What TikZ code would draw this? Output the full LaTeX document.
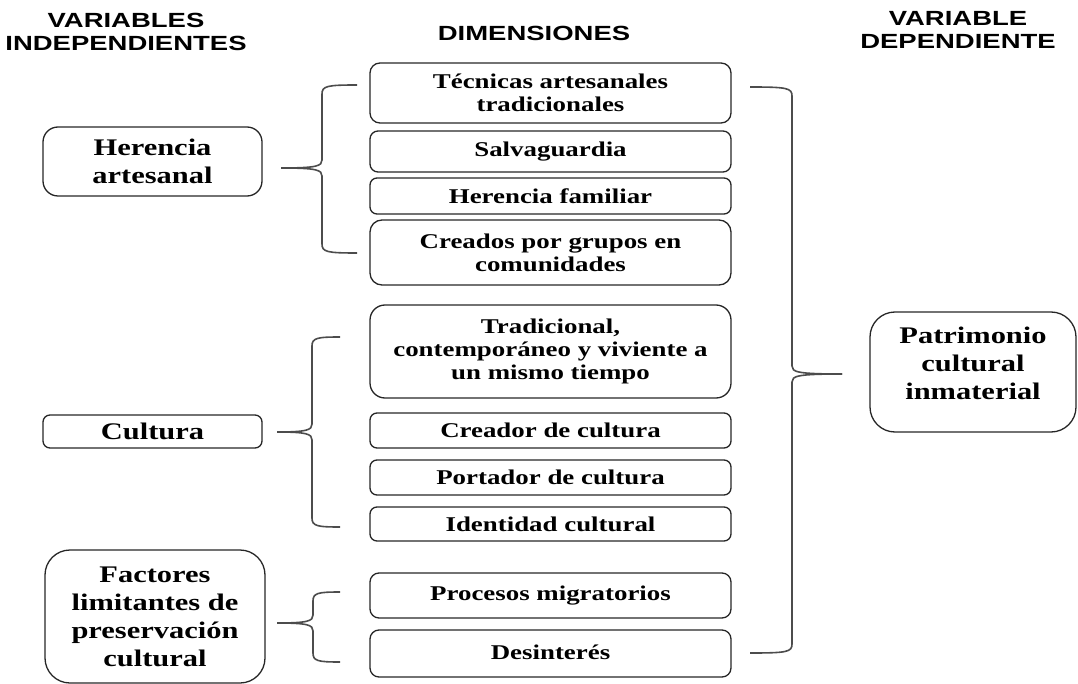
\documentclass[tikz,border=0pt]{standalone}
\usepackage{fontspec}
\newfontfamily\boxfont{Liberation Serif}[FakeStretch=1.28]
\newfontfamily\hdrfont{Liberation Sans}[FakeStretch=1.34]
\newcommand{\LBraceDraw}[7]{%
  % #1 name, #2 end x, #3 vertical x, #4 tip x, #5 top y, #6 mid y, #7 bottom y
  \coordinate (#1top) at (#2,#5);
  \coordinate (#1tip) at (#4,#6);
  \coordinate (#1bot) at (#2,#7);
  \draw[bracestyle] (#1top) .. controls ({#3+5},#5) and (#3,{#5+1}) .. (#3,{#5+9})
     -- (#3,{#6-8}) .. controls (#3,{#6-2}) and ({#3-5},#6) .. (#1tip);
  \draw[bracestyle] (#1bot) .. controls ({#3+5},#7) and (#3,{#7-1}) .. (#3,{#7-9})
     -- (#3,{#6+8}) .. controls (#3,{#6+2}) and ({#3-5},#6) .. (#1tip);
}
\newcommand{\RBraceDraw}[7]{%
  \coordinate (#1top) at (#2,#5);
  \coordinate (#1tip) at (#4,#6);
  \coordinate (#1bot) at (#2,#7);
  \draw[bracestyle] (#1top) .. controls ({#3-5},#5) and (#3,{#5+1}) .. (#3,{#5+9})
     -- (#3,{#6-8}) .. controls (#3,{#6-2}) and ({#3+5},#6) .. (#1tip);
  \draw[bracestyle] (#1bot) .. controls ({#3-5},#7) and (#3,{#7-1}) .. (#3,{#7-9})
     -- (#3,{#6+8}) .. controls (#3,{#6+2}) and ({#3+5},#6) .. (#1tip);
}
\begin{document}
\begin{tikzpicture}[x=1pt,y=-1pt,
  box/.style={draw=black!85, line width=1.3pt, align=center, inner sep=0pt,
    font=\boxfont\bfseries\fontsize{21}{23}\selectfont},
  bigbox/.style={box, font=\boxfont\bfseries\fontsize{23.8}{28}\selectfont},
  bigtext/.style={align=center, inner sep=0pt, font=\boxfont\bfseries\fontsize{23.8}{28}\selectfont},
  hdr/.style={align=center, inner sep=0pt, font=\hdrfont\bfseries\fontsize{20.5}{23}\selectfont},
  bracestyle/.style={draw=black!70, line width=1.6pt}]
\useasboundingbox (0,0) rectangle (1078,684);
% headers
\node[hdr] (h1) at (126,31.5) {VARIABLES\\INDEPENDIENTES};
\node[hdr] (h2) at (534,33) {DIMENSIONES};
\node[hdr] (h3) at (958,30) {VARIABLE\\DEPENDIENTE};
% middle column
\node[box, rounded corners=10pt, minimum width=361pt, minimum height=60pt] (tec) at (550.5,93) {Técnicas artesanales\\tradicionales};
\node[box, rounded corners=8pt, minimum width=361pt, minimum height=41pt] (sal) at (550.5,151.5) {Salvaguardia};
\node[box, rounded corners=7pt, minimum width=361pt, minimum height=36pt] (her) at (550.5,196) {Herencia familiar};
\node[box, rounded corners=12pt, minimum width=361pt, minimum height=65pt] (cre) at (550.5,252.5) {Creados por grupos en\\comunidades};
\node[box, rounded corners=15pt, minimum width=361pt, minimum height=93pt] (tra) at (550.5,351.5) {Tradicional,\\contemporáneo y viviente a\\un mismo tiempo};
\node[box, rounded corners=7pt, minimum width=361pt, minimum height=35pt] (cdc) at (550.5,430.5) {Creador de cultura};
\node[box, rounded corners=7pt, minimum width=361pt, minimum height=35pt] (pdc) at (550.5,477.5) {Portador de cultura};
\node[box, rounded corners=7pt, minimum width=361pt, minimum height=34pt] (ide) at (550.5,524) {Identidad cultural};
\node[box, rounded corners=9pt, minimum width=361pt, minimum height=45pt] (pro) at (550.5,595.5) {\raisebox{2pt}{Procesos migratorios}};
\node[box, rounded corners=9pt, minimum width=361pt, minimum height=47pt] (des) at (550.5,653.5) {\raisebox{3pt}{Desinterés}};
% left column
\node[bigbox, rounded corners=15pt, minimum width=219pt, minimum height=69pt] (ha) at (152.5,161.5) {Herencia\\artesanal};
\node[bigbox, rounded corners=7pt, minimum width=219pt, minimum height=33pt] (cu) at (152.5,431.5) {Cultura};
\node[bigbox, rounded corners=25pt, minimum width=220pt, minimum height=133pt] (fa) at (155,616.5) {Factores\\limitantes de\\preservación\\cultural};
% right column
\node[box, rounded corners=25pt, minimum width=206pt, minimum height=120pt] (pci) at (973,372) {};
\node[bigtext] (pcit) at ([yshift=9pt]pci.center) {Patrimonio\\cultural\\inmaterial};
% braces
\LBraceDraw{bA}{357}{322}{281}{85}{168}{253}
\LBraceDraw{bB}{340}{312}{277}{337}{432}{527}
\LBraceDraw{bC}{340}{313}{277}{592}{623}{662}
\RBraceDraw{bD}{750}{792}{842}{87}{374}{653}
\end{tikzpicture}
\end{document}
